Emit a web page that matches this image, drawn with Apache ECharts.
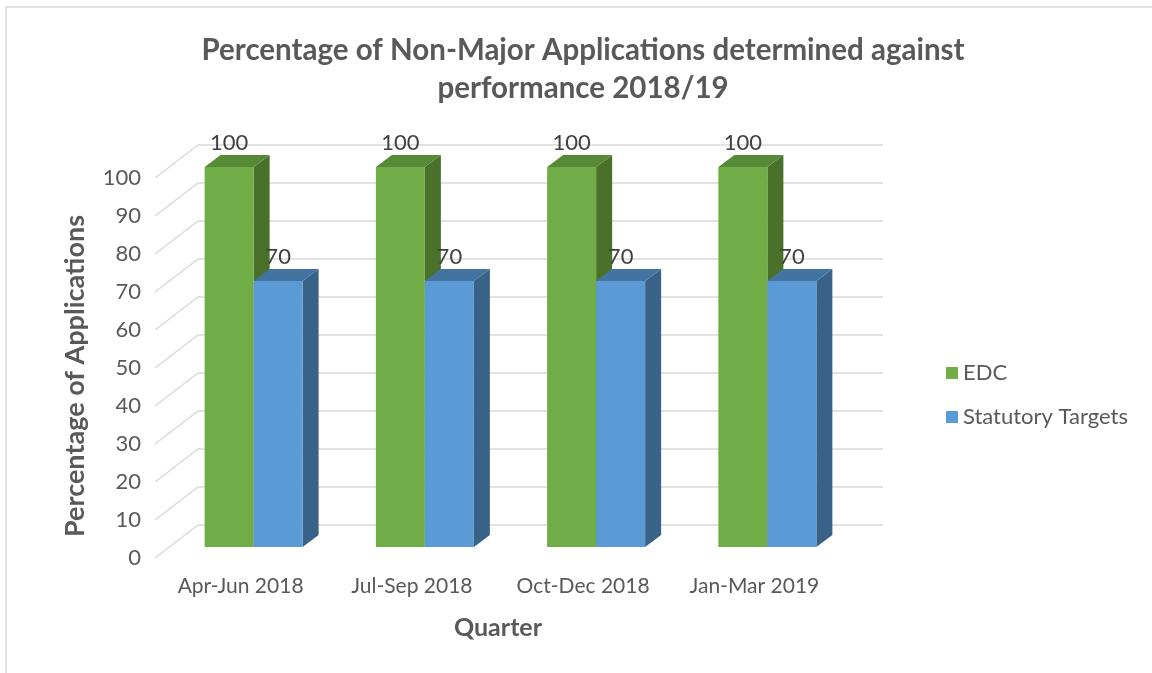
<!DOCTYPE html>
<html>
<head>
<meta charset="utf-8">
<script src="https://cdn.jsdelivr.net/npm/echarts@6/dist/echarts.min.js"></script>
<style>html,body{margin:0;padding:0;background:#fff}#c{width:1152px;height:673px}</style>
</head>
<body>
<div id="c"></div>
<script>
const categories = ['Apr-Jun 2018', 'Jul-Sep 2018', 'Oct-Dec 2018', 'Jan-Mar 2019'];
const edcValues = [100, 100, 100, 100];
const targetValues = [70, 70, 70, 70];
const yTicks = [0, 10, 20, 30, 40, 50, 60, 70, 80, 90, 100];

const FONT = 'Lato';
const TXT = '#595959';
// depth projection constants (pixels)
const OFFX = -30, OFFY = 22, BW = 49, DX = 16, DY = -12;
const WALL_DX = -43, WALL_DY = 33;

const palettes = [
  { front: '#70AD47', top: '#568A36', side: '#4A7129' },
  { front: '#5B9BD5', top: '#4374A1', side: '#386287' }
];

function barRenderer(which) {
  return function (params, api) {
    const cat = api.value(0), val = api.value(1);
    const base = api.coord([cat, 0]);
    const top = api.coord([cat, val]);
    const cx = base[0] + OFFX;
    const x0 = which === 0 ? cx - BW : cx;
    const x1 = x0 + BW;
    const t = top[1] + OFFY, b = base[1] + OFFY;
    const p = palettes[which];
    return {
      type: 'group',
      children: [
        { type: 'polygon', shape: { points: [[x1, t], [x1 + DX, t + DY], [x1 + DX, b + DY], [x1, b]] }, style: { fill: p.side } },
        { type: 'polygon', shape: { points: [[x0, t], [x1, t], [x1 + DX, t + DY], [x0 + DX, t + DY]] }, style: { fill: p.top } },
        { type: 'rect', shape: { x: x0, y: t, width: BW, height: b - t }, style: { fill: p.front } },
        { type: 'text', x: (x0 + x1) / 2, y: t - 24, style: { text: String(val), fill: '#404040', font: '22px ' + FONT, align: 'center', verticalAlign: 'middle' } }
      ]
    };
  };
}

const chart = echarts.init(document.getElementById('c'));
chart.setOption({
  animation: false,
  backgroundColor: '#fff',
  title: {
    text: 'Percentage of Non-Major Applications determined against\nperformance 2018/19',
    left: 583, top: 31, textAlign: 'center', padding: 0,
    textStyle: { fontFamily: FONT, fontWeight: 'bold', fontSize: 29.5, color: TXT, lineHeight: 38 }
  },
  legend: {
    orient: 'vertical', left: 946, top: 362, itemWidth: 12, itemHeight: 12, itemGap: 22, padding: 0,
    icon: 'rect',
    textStyle: { fontFamily: FONT, fontSize: 22, color: TXT },
    data: ['EDC', 'Statutory Targets']
  },
  grid: [
    { left: 198, top: 145, width: 685, height: 380 },
    { left: 155, top: 178, width: 685, height: 380 }
  ],
  xAxis: [
    { type: 'category', gridIndex: 0, data: categories, axisLine: { show: false }, axisTick: { show: false }, axisLabel: { show: false } },
    { type: 'category', gridIndex: 1, data: categories, axisLine: { show: false }, axisTick: { show: false },
      axisLabel: { interval: 0, fontFamily: FONT, fontSize: 21, color: TXT, margin: 18 } }
  ],
  yAxis: [
    { type: 'value', gridIndex: 0, min: 0, max: 100, interval: 10, axisLabel: { show: false },
      splitLine: { lineStyle: { color: '#D9D9D9', width: 1.5 } } },
    { type: 'value', gridIndex: 1, min: 0, max: 100, interval: 10, splitLine: { show: false },
      axisLabel: { fontFamily: FONT, fontSize: 22, color: TXT, margin: 14 } }
  ],
  graphic: [
    { type: 'rect', shape: { x: 6, y: 7, width: 1200, height: 700 }, style: { fill: 'none', stroke: '#D9D9D9', lineWidth: 1.5 }, z: -10 },
    { type: 'text', x: 75, y: 376, rotation: Math.PI / 2, style: { text: 'Percentage of Applications', font: 'bold 27px ' + FONT, fill: TXT, align: 'center', verticalAlign: 'middle' } },
    { type: 'text', x: 498, y: 628, style: { text: 'Quarter', font: 'bold 25px ' + FONT, fill: TXT, align: 'center', verticalAlign: 'middle' } }
  ],
  series: [
    {
      type: 'custom', name: 'wall', xAxisIndex: 0, yAxisIndex: 0, silent: true, z: 1,
      data: yTicks.map(v => [0, v]),
      renderItem: function (params, api) {
        const p = api.coord([0, api.value(1)]);
        const lx = p[0] - api.size([1, 0])[0] / 2;
        return { type: 'line', shape: { x1: lx + WALL_DX, y1: p[1] + WALL_DY, x2: lx, y2: p[1] }, style: { stroke: '#D9D9D9', lineWidth: 1.5 } };
      }
    },
    {
      type: 'custom', name: 'EDC', xAxisIndex: 0, yAxisIndex: 0, z: 2,
      itemStyle: { color: palettes[0].front },
      data: edcValues.map((v, i) => [i, v]),
      renderItem: barRenderer(0)
    },
    {
      type: 'custom', name: 'Statutory Targets', xAxisIndex: 0, yAxisIndex: 0, z: 3,
      itemStyle: { color: palettes[1].front },
      data: targetValues.map((v, i) => [i, v]),
      renderItem: barRenderer(1)
    }
  ]
});
</script>
</body>
</html>
